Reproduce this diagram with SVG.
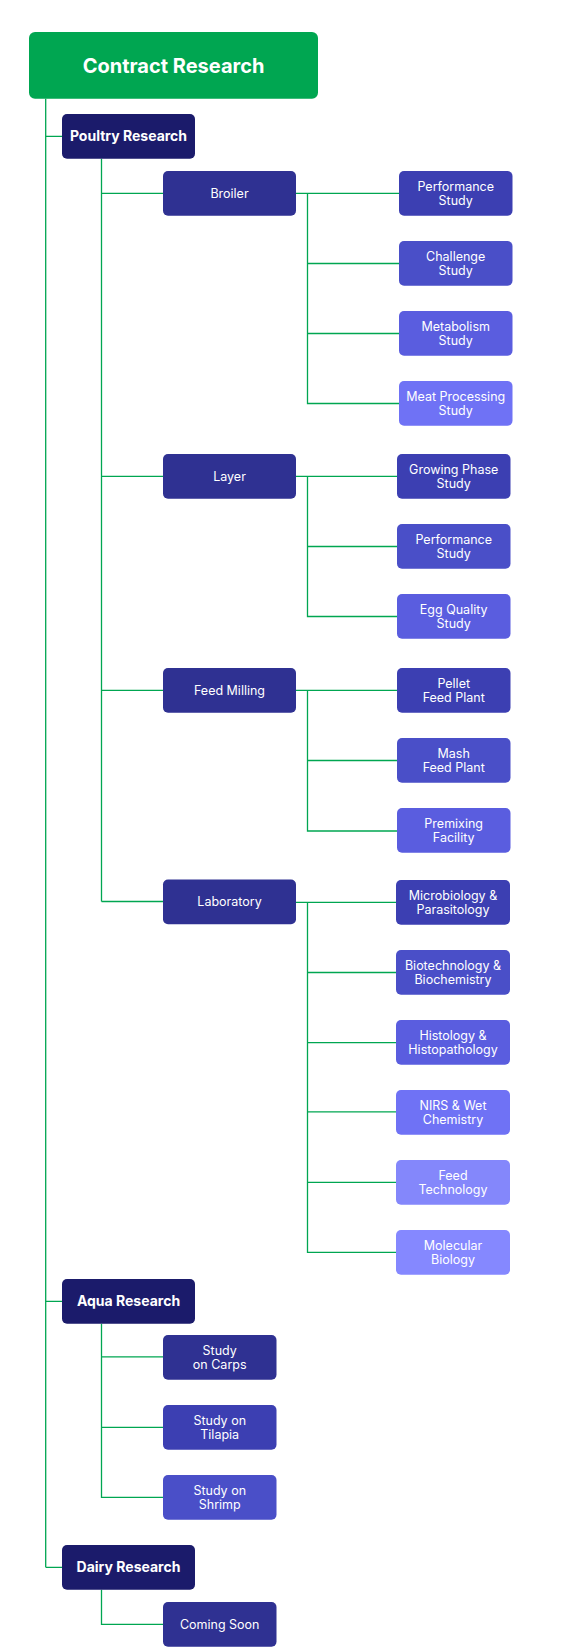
<svg xmlns="http://www.w3.org/2000/svg" width="585" height="1648" viewBox="0 0 585 1648">
<style>
.t{font-family:Inter,"Liberation Sans",sans-serif;fill:#fff;text-anchor:middle}
.r{font-size:12.5px}
.b{font-size:14px;font-weight:700}
.h{font-size:20px;font-weight:700}
.c{fill:none;stroke:#00A651;stroke-width:1.3}
.g{fill:#00A651}
.n{fill:#1B1B6B}
.m{fill:#2F3192}
.l1{fill:#3C3FB2}
.l2{fill:#4A4FC8}
.l3{fill:#5A5DDF}
.l4{fill:#6F72F5}
.l5{fill:#8487FB}
.l6{fill:#8588FF}
</style>
<rect width="585" height="1648" fill="#fff"/>
<g id="connectors" class="c">
<path d="M45.7 98.7V1567.3M45.7 136.3H62M45.7 1301.3H62M45.7 1567.3H62"/>
<path d="M101.5 158.7V901.5M101.5 193.3H163M101.5 476.3H163M101.5 690.3H163M101.5 901.5H163"/>
<path d="M296 193.3H399M307.5 193.3V403.5H399M307.5 263.5H399M307.5 333.5H399"/>
<path d="M296 476.3H397M307.5 476.3V616.5H397M307.5 546.5H397"/>
<path d="M296 690.3H397M307.5 690.3V831H397M307.5 760.5H397"/>
<path d="M296 902.3H396M307.5 902.3V1252.3H396M307.5 972.5H396M307.5 1042.7H396M307.5 1111.8H396M307.5 1182.3H396"/>
<path d="M101.5 1323.7V1497.3H163M101.5 1356.8H163M101.5 1427.3H163"/>
<path d="M101.5 1589.7V1624.3H163"/>
</g>
<g id="contract"><rect class="g" x="29" y="32" width="289" height="66.7" rx="6"/><text class="t h" x="173.5" y="72.5">Contract Research</text></g>
<g id="poultry"><rect class="n" x="62" y="114" width="133" height="44.7" rx="5"/><text class="t b" x="128.5" y="141.3">Poultry Research</text></g>
<g id="broiler"><rect class="m" x="163" y="171" width="133" height="44.7" rx="5"/><text class="t r" x="229.5" y="197.8">Broiler</text></g>
<g id="b-performance"><rect class="l1" x="399" y="171" width="113.5" height="44.7" rx="5"/><text class="t r" x="455.7" y="190.8">Performance</text><text class="t r" x="455.7" y="204.8">Study</text></g>
<g id="b-challenge"><rect class="l2" x="399" y="241" width="113.5" height="44.7" rx="5"/><text class="t r" x="455.7" y="260.8">Challenge</text><text class="t r" x="455.7" y="274.8">Study</text></g>
<g id="b-metabolism"><rect class="l3" x="399" y="311" width="113.5" height="44.7" rx="5"/><text class="t r" x="455.7" y="330.8">Metabolism</text><text class="t r" x="455.7" y="344.8">Study</text></g>
<g id="b-meat"><rect class="l4" x="399" y="381" width="113.5" height="44.7" rx="5"/><text class="t r" x="455.7" y="400.8">Meat Processing</text><text class="t r" x="455.7" y="414.8">Study</text></g>
<g id="layer"><rect class="m" x="163" y="454" width="133" height="44.7" rx="5"/><text class="t r" x="229.5" y="480.8">Layer</text></g>
<g id="l-growing"><rect class="l1" x="397" y="454" width="113.5" height="44.7" rx="5"/><text class="t r" x="453.7" y="473.8">Growing Phase</text><text class="t r" x="453.7" y="487.8">Study</text></g>
<g id="l-performance"><rect class="l2" x="397" y="524" width="113.5" height="44.7" rx="5"/><text class="t r" x="453.7" y="543.8">Performance</text><text class="t r" x="453.7" y="557.8">Study</text></g>
<g id="l-egg"><rect class="l3" x="397" y="594" width="113.5" height="44.7" rx="5"/><text class="t r" x="453.7" y="613.8">Egg Quality</text><text class="t r" x="453.7" y="627.8">Study</text></g>
<g id="feedmilling"><rect class="m" x="163" y="668" width="133" height="44.7" rx="5"/><text class="t r" x="229.5" y="694.8">Feed Milling</text></g>
<g id="f-pellet"><rect class="l1" x="397" y="668" width="113.5" height="44.7" rx="5"/><text class="t r" x="453.7" y="687.8">Pellet</text><text class="t r" x="453.7" y="701.8">Feed Plant</text></g>
<g id="f-mash"><rect class="l2" x="397" y="738" width="113.5" height="44.7" rx="5"/><text class="t r" x="453.7" y="757.8">Mash</text><text class="t r" x="453.7" y="771.8">Feed Plant</text></g>
<g id="f-premix"><rect class="l3" x="397" y="808" width="113.5" height="44.7" rx="5"/><text class="t r" x="453.7" y="827.8">Premixing</text><text class="t r" x="453.7" y="841.8">Facility</text></g>
<g id="laboratory"><rect class="m" x="163" y="879.5" width="133" height="44.7" rx="5"/><text class="t r" x="229.5" y="906.3">Laboratory</text></g>
<g id="lab-micro"><rect class="l1" x="396" y="880" width="114" height="44.7" rx="5"/><text class="t r" x="453" y="899.8">Microbiology &amp;</text><text class="t r" x="453" y="913.8">Parasitology</text></g>
<g id="lab-biotech"><rect class="l2" x="396" y="950" width="114" height="44.7" rx="5"/><text class="t r" x="453" y="969.8">Biotechnology &amp;</text><text class="t r" x="453" y="983.8">Biochemistry</text></g>
<g id="lab-histo"><rect class="l3" x="396" y="1020" width="114" height="44.7" rx="5"/><text class="t r" x="453" y="1039.8">Histology &amp;</text><text class="t r" x="453" y="1053.8">Histopathology</text></g>
<g id="lab-nirs"><rect class="l4" x="396" y="1090" width="114" height="44.7" rx="5"/><text class="t r" x="453" y="1109.8">NIRS &amp; Wet</text><text class="t r" x="453" y="1123.8">Chemistry</text></g>
<g id="lab-feedtech"><rect class="l5" x="396" y="1160" width="114" height="44.7" rx="5"/><text class="t r" x="453" y="1179.8">Feed</text><text class="t r" x="453" y="1193.8">Technology</text></g>
<g id="lab-molecular"><rect class="l6" x="396" y="1230" width="114" height="44.7" rx="5"/><text class="t r" x="453" y="1249.8">Molecular</text><text class="t r" x="453" y="1263.8">Biology</text></g>
<g id="aqua"><rect class="n" x="62" y="1279" width="133" height="44.7" rx="5"/><text class="t b" x="128.5" y="1306.3">Aqua Research</text></g>
<g id="a-carps"><rect class="m" x="163" y="1335" width="113.5" height="44.7" rx="5"/><text class="t r" x="219.7" y="1354.8">Study</text><text class="t r" x="219.7" y="1368.8">on Carps</text></g>
<g id="a-tilapia"><rect class="l1" x="163" y="1405" width="113.5" height="44.7" rx="5"/><text class="t r" x="219.7" y="1424.8">Study on</text><text class="t r" x="219.7" y="1438.8">Tilapia</text></g>
<g id="a-shrimp"><rect class="l2" x="163" y="1475" width="113.5" height="44.7" rx="5"/><text class="t r" x="219.7" y="1494.8">Study on</text><text class="t r" x="219.7" y="1508.8">Shrimp</text></g>
<g id="dairy"><rect class="n" x="62" y="1545" width="133" height="44.7" rx="5"/><text class="t b" x="128.5" y="1572.3">Dairy Research</text></g>
<g id="d-coming"><rect class="m" x="163" y="1602" width="113.5" height="44.7" rx="5"/><text class="t r" x="219.7" y="1628.8">Coming Soon</text></g>
</svg>
